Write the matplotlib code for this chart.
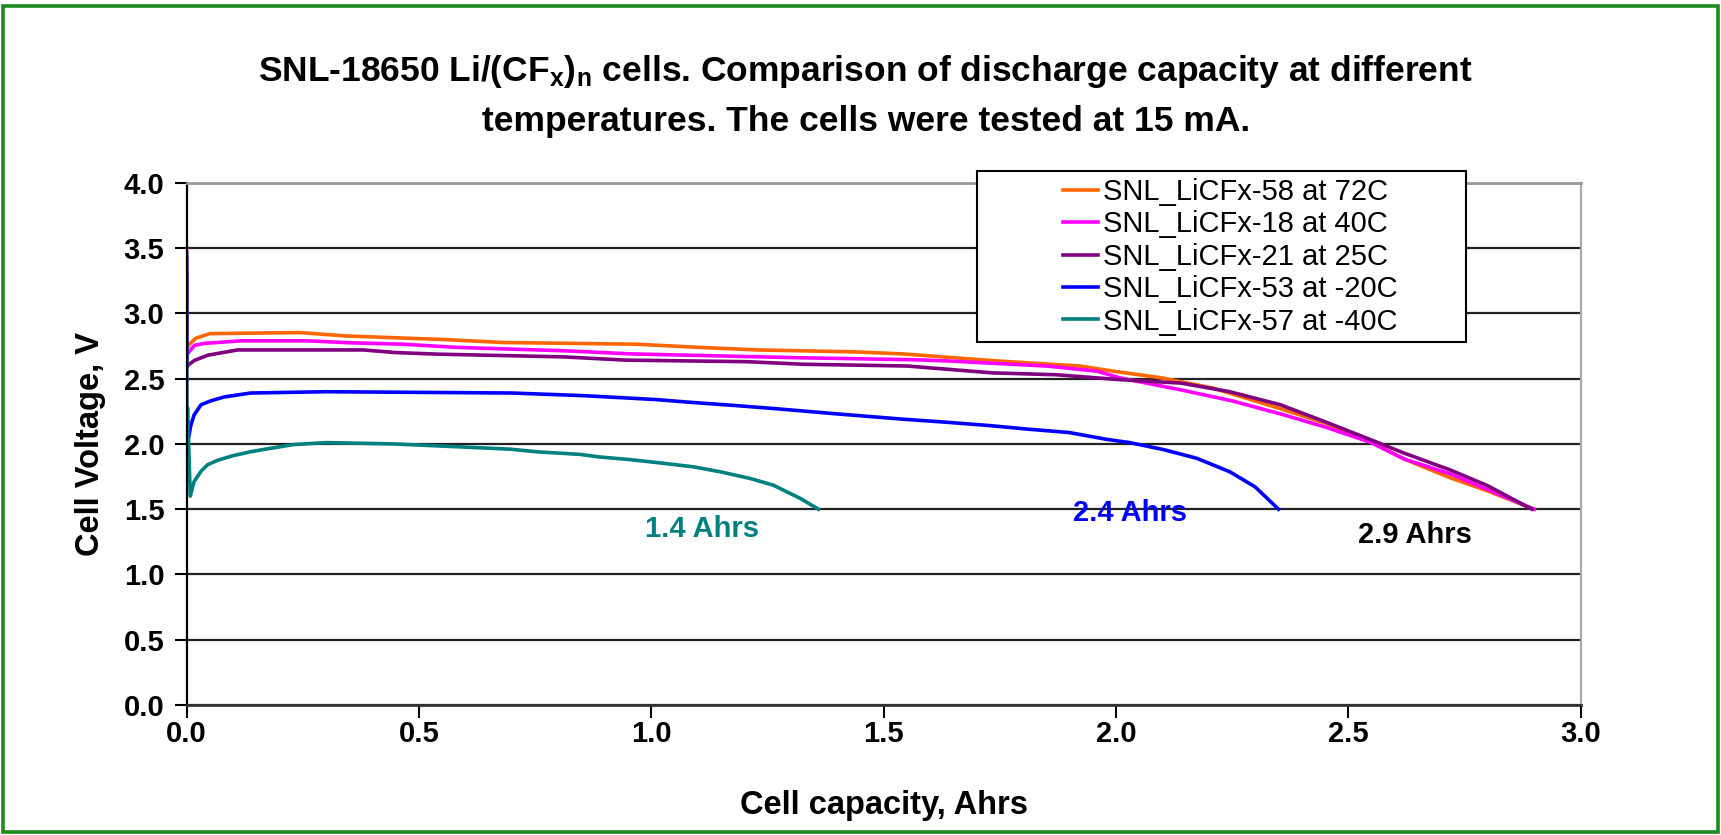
import matplotlib
matplotlib.use("Agg")
import matplotlib.pyplot as plt
from matplotlib.patches import Rectangle

plt.rcParams["font.family"] = ["Liberation Sans", "DejaVu Sans"]
plt.rcParams["mathtext.fontset"] = "custom"
plt.rcParams["mathtext.rm"] = "Liberation Sans:bold"
plt.rcParams["mathtext.it"] = "Liberation Sans:bold"
plt.rcParams["mathtext.default"] = "regular"

# --- data (capacity in Ahrs, voltage in V) ---
labels = [
    "SNL_LiCFx-58 at 72C",
    "SNL_LiCFx-18 at 40C",
    "SNL_LiCFx-21 at 25C",
    "SNL_LiCFx-53 at -20C",
    "SNL_LiCFx-57 at -40C",
]
colors = ["#ff6600", "#ff00ff", "#800080", "#0000ff", "#008080"]

cap_72 = [0.0, 0.0, 0.005, 0.02, 0.05, 0.244, 0.344, 0.552, 0.681, 0.968, 1.101,
          1.23, 1.44, 1.54, 1.743, 1.922, 1.995, 2.10, 2.21, 2.354, 2.45, 2.55,
          2.62, 2.72, 2.80, 2.90]
volt_72 = [3.30, 2.72, 2.76, 2.81, 2.845, 2.853, 2.827, 2.80, 2.777, 2.764, 2.74,
           2.72, 2.705, 2.69, 2.636, 2.597, 2.557, 2.505, 2.427, 2.27, 2.16, 2.01,
           1.885, 1.74, 1.64, 1.50]

cap_40 = [0.0, 0.0, 0.002, 0.017, 0.038, 0.117, 0.26, 0.35, 0.466, 0.58, 0.70,
          0.818, 0.954, 1.32, 1.565, 1.636, 1.85, 1.96, 2.01, 2.14, 2.25, 2.354,
          2.45, 2.55, 2.62, 2.72, 2.80, 2.90]
volt_40 = [3.50, 2.65, 2.69, 2.755, 2.77, 2.79, 2.79, 2.775, 2.764, 2.74, 2.726,
           2.713, 2.69, 2.66, 2.645, 2.636, 2.597, 2.557, 2.505, 2.414, 2.33, 2.23,
           2.13, 2.01, 1.885, 1.77, 1.65, 1.50]

cap_25 = [0.0, 0.0, 0.002, 0.017, 0.046, 0.11, 0.38, 0.45, 0.538, 0.81, 0.945,
          1.206, 1.33, 1.55, 1.736, 1.872, 2.01, 2.14, 2.245, 2.354, 2.45, 2.55,
          2.62, 2.72, 2.80, 2.895]
volt_25 = [3.30, 2.58, 2.60, 2.64, 2.68, 2.72, 2.72, 2.70, 2.688, 2.667, 2.642,
           2.63, 2.61, 2.597, 2.544, 2.53, 2.492, 2.466, 2.40, 2.30, 2.17, 2.03,
           1.93, 1.80, 1.68, 1.50]

cap_m20 = [0.0, 0.0, 0.002, 0.009, 0.016, 0.031, 0.052, 0.081, 0.138, 0.30, 0.70,
           0.853, 1.01, 1.08, 1.178, 1.268, 1.40, 1.54, 1.636, 1.73, 1.808, 1.90,
           1.98, 2.03, 2.102, 2.174, 2.245, 2.30, 2.35]
volt_m20 = [3.42, 1.80, 2.00, 2.14, 2.22, 2.30, 2.33, 2.36, 2.39, 2.40, 2.39,
            2.37, 2.34, 2.32, 2.295, 2.27, 2.23, 2.19, 2.166, 2.14, 2.114, 2.087,
            2.035, 2.01, 1.957, 1.89, 1.787, 1.67, 1.50]

cap_m40 = [0.0, 0.0, 0.002, 0.008, 0.016, 0.031, 0.045, 0.067, 0.10, 0.138, 0.17,
           0.23, 0.301, 0.445, 0.56, 0.696, 0.753, 0.846, 0.889, 0.954, 1.018,
           1.09, 1.148, 1.212, 1.262, 1.32, 1.36]
volt_m40 = [3.46, 1.75, 2.28, 1.60, 1.71, 1.79, 1.84, 1.875, 1.91, 1.94, 1.96,
            1.995, 2.01, 2.0, 1.982, 1.96, 1.94, 1.92, 1.90, 1.88, 1.855,
            1.825, 1.787, 1.736, 1.685, 1.584, 1.50]

caps = [cap_72, cap_40, cap_25, cap_m20, cap_m40]
volts = [volt_72, volt_40, volt_25, volt_m20, volt_m40]

end_labels = ["1.4 Ahrs", "2.4 Ahrs", "2.9 Ahrs"]
end_colors = ["#008080", "#0000ff", "#000000"]
end_pos = [(1.11, 1.35), (2.03, 1.47), (2.643, 1.30)]

x_ticks = [0.0, 0.5, 1.0, 1.5, 2.0, 2.5, 3.0]
y_ticks = [0.0, 0.5, 1.0, 1.5, 2.0, 2.5, 3.0, 3.5, 4.0]

# --- figure ---
fig = plt.figure(figsize=(17.21, 8.35), dpi=100)
ax = fig.add_axes([0.1084, 0.1557, 0.8100, 0.6253])

ax.set_xlim(0, 3)
ax.set_ylim(0, 4)
ax.set_xticks(x_ticks)
ax.set_yticks(y_ticks)
ax.set_xticklabels([f"{t:.1f}" for t in x_ticks])
ax.set_yticklabels([f"{t:.1f}" for t in y_ticks])
ax.tick_params(axis="both", labelsize=21, width=1.5, length=9, color="black")
ax.tick_params(axis="x", pad=2)
ax.tick_params(axis="y", pad=7)
for lab in ax.get_xticklabels() + ax.get_yticklabels():
    lab.set_fontweight("bold")

ax.yaxis.grid(True, color="#222222", linewidth=1.6)
ax.spines["left"].set_color("black")
ax.spines["left"].set_linewidth(1.6)
ax.spines["bottom"].set_color("#333333")
ax.spines["bottom"].set_linewidth(2.0)
ax.spines["top"].set_color("#9a9a9a")
ax.spines["top"].set_linewidth(2.0)
ax.spines["right"].set_color("#aaaaaa")
ax.spines["right"].set_linewidth(1.6)

handles = []
for cap, volt, c, lab in zip(caps, volts, colors, labels):
    (ln,) = ax.plot(cap, volt, color=c, linewidth=2.6, label=lab)
    handles.append(ln)

for txt, c, (x, y) in zip(end_labels, end_colors, end_pos):
    ax.text(x, y, txt, color=c, fontsize=21, fontweight="bold",
            ha="center", va="center")

ax.set_xlabel("Cell capacity, Ahrs", fontsize=23.5, fontweight="bold")
ax.set_ylabel("Cell Voltage, V", fontsize=23.5, fontweight="bold")
ax.xaxis.set_label_coords(0.5, -0.1916)
ax.xaxis.label.set_va("center")
ax.yaxis.set_label_coords(-0.0686, 0.5)
ax.yaxis.label.set_va("center")

# title, two lines
fig.text(0.503, 1 - 72 / 835,
         "SNL-18650 Li/(CF$_x$)$_n$ cells. Comparison of discharge capacity at different",
         ha="center", va="center", fontsize=25.5, fontweight="bold")
fig.text(0.503, 1 - 121 / 835, "temperatures. The cells were tested at 15 mA.",
         ha="center", va="center", fontsize=25.5, fontweight="bold")

# legend box (sticks out above the plot area like in the original)
box = Rectangle((0.5677, 0.5904), 0.2841, 0.2051, transform=fig.transFigure,
                facecolor="white", edgecolor="black", linewidth=1.5, zorder=5)
fig.patches.append(box)
leg = fig.legend(handles, labels, loc="upper left", bbox_to_anchor=(0.6177, 0.7868),
                 frameon=False, fontsize=21, handlelength=1.2, handletextpad=0.17,
                 labelspacing=0.15, borderpad=0, borderaxespad=0)
leg.set_zorder(6)

# green outer frame
frame = Rectangle((0.002, 0.0036), 0.996, 0.9892, transform=fig.transFigure,
                  facecolor="none", edgecolor="#1b8c1b", linewidth=2.6, zorder=10)
fig.patches.append(frame)

fig.savefig("out.png", dpi=100)
